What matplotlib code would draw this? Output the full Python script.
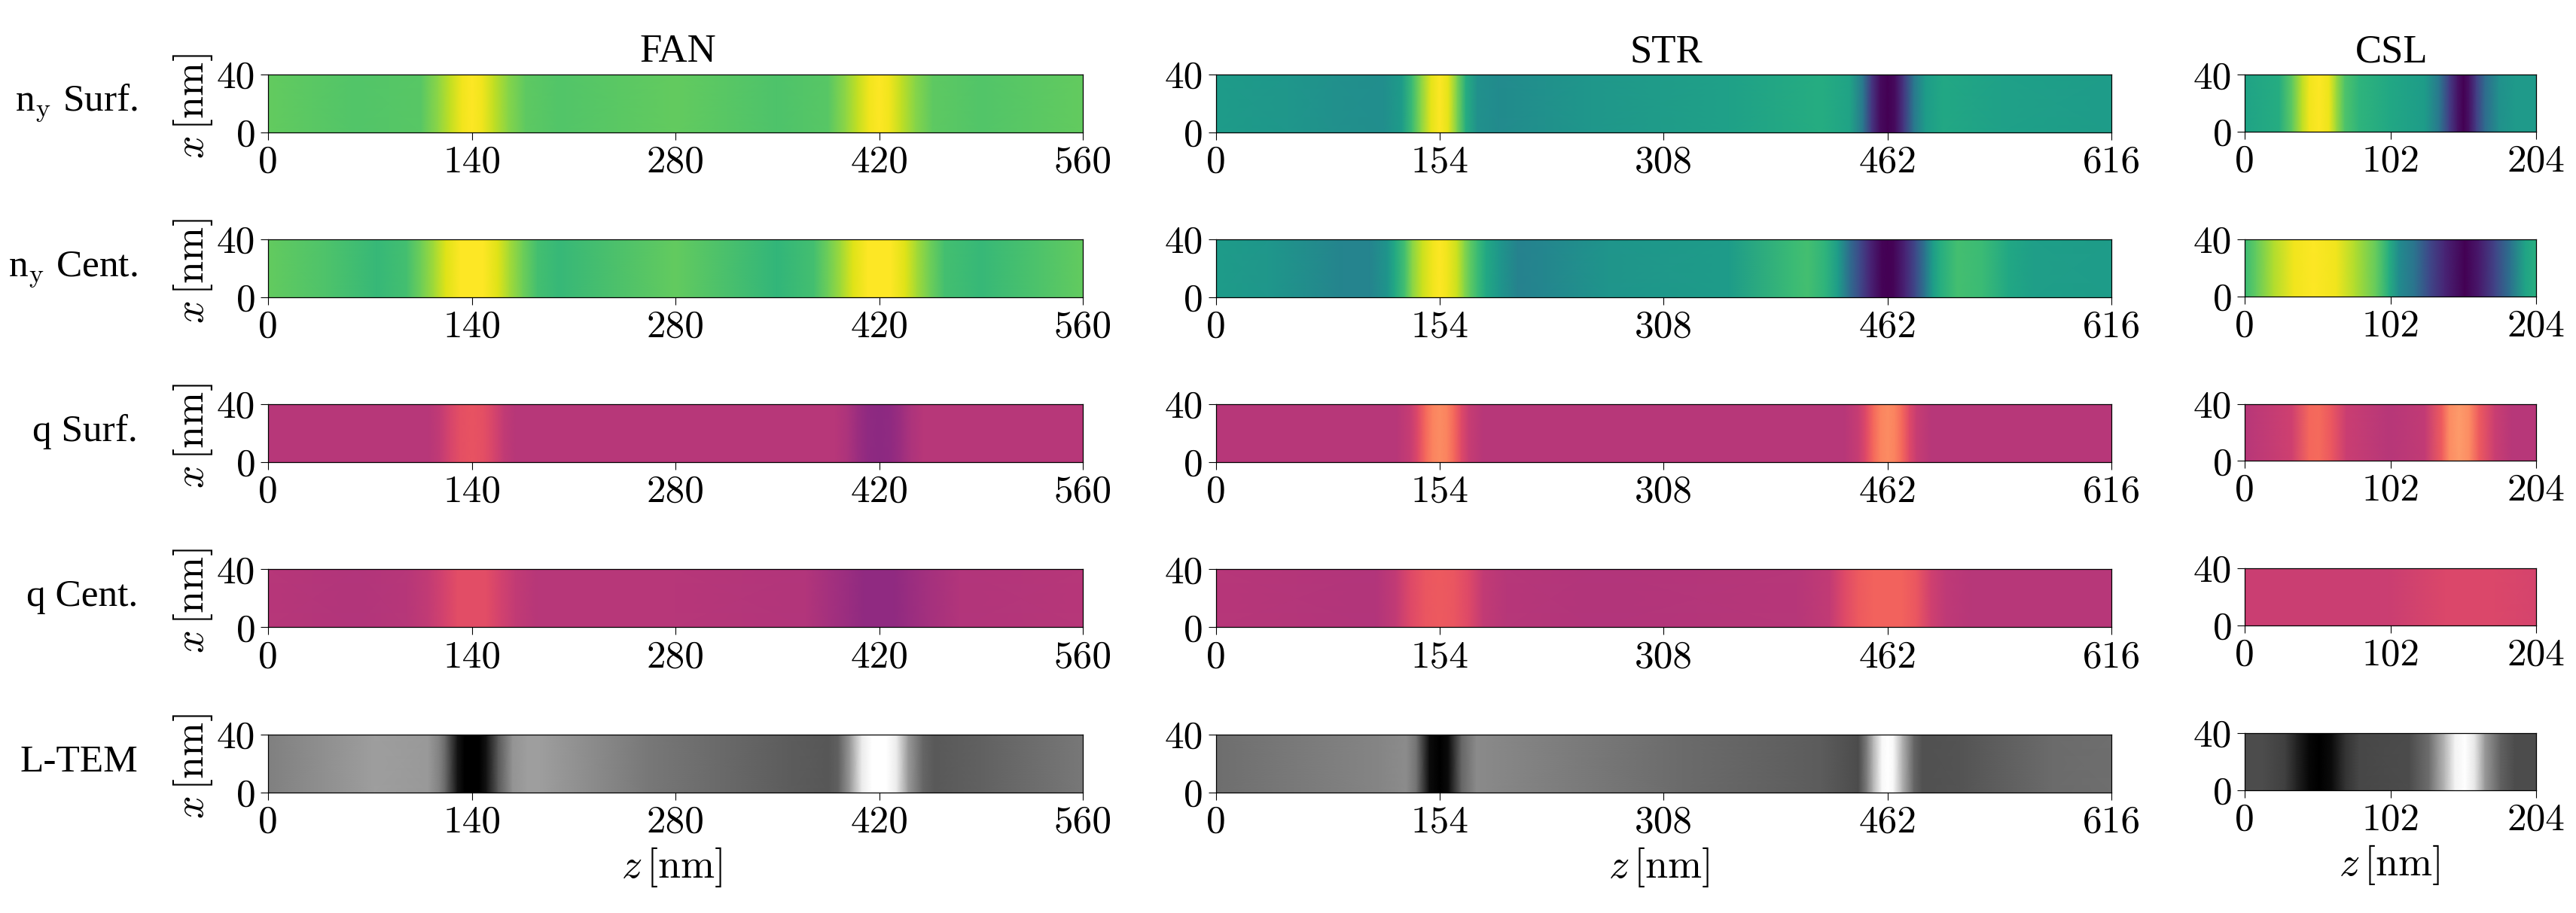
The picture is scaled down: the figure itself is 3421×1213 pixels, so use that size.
#!/usr/bin/env python3
"""Stripe maps of n_y, q and L-TEM contrast for the FAN, STR and CSL cells."""

import matplotlib

matplotlib.use("Agg")
import matplotlib.pyplot as plt
import numpy as np

plt.rcParams["font.family"] = ["Liberation Serif", "DejaVu Serif"]
plt.rcParams["mathtext.fontset"] = "cm"

WIDTH, HEIGHT = 3421, 1213
DPI = 100

ROW_LABELS = [r"n$_{\mathrm{y}}$ Surf.", r"n$_{\mathrm{y}}$ Cent.", "q Surf.", "q Cent.", "L-TEM"]
COLUMN_TITLES = ["FAN", "STR", "CSL"]
ROW_CMAPS = ["viridis", "viridis", "magma", "magma", "gray"]
FAN_TICKS = [0, 140, 280, 420, 560]
STR_TICKS = [0, 154, 308, 462, 616]
CSL_TICKS = [0, 102, 204]
X_TICKS = [0, 40]

# values, as positions along each colour map (0..1)
fan_ny_surf_z = [0, 60, 105, 117, 125, 133, 140, 147, 155, 165, 177, 200, 280, 350, 385, 397, 405, 413, 420, 427, 435, 445, 457, 490, 560]
fan_ny_surf = [.76, .73, .74, .83, .91, .98, 1, .98, .91, .82, .75, .73, .76, .72, .74, .83, .91, .98, 1, .98, .91, .82, .75, .73, .76]
fan_ny_cent_z = [0, 40, 75, 95, 105, 114, 122, 132, 148, 158, 166, 175, 185, 200, 280, 350, 375, 385, 394, 402, 412, 428, 438, 446, 455, 465, 490, 530, 560]
fan_ny_cent = [.76, .72, .67, .7, .78, .86, .95, 1, 1, .95, .86, .78, .7, .67, .76, .66, .7, .78, .86, .95, 1, 1, .95, .86, .78, .7, .67, .72, .76]
fan_q_surf_z = [0, 110, 118, 125, 132, 140, 148, 155, 162, 170, 390, 398, 405, 412, 420, 428, 435, 442, 450, 560]
fan_q_surf = [.5, .5, .53, .58, .62, .63, .62, .58, .53, .5, .5, .48, .44, .41, .4, .41, .44, .48, .5, .5]
fan_q_cent_z = [0, 60, 95, 110, 120, 130, 150, 160, 170, 185, 280, 370, 385, 400, 410, 430, 440, 455, 475, 560]
fan_q_cent = [.5, .49, .5, .53, .57, .61, .61, .57, .53, .5, .5, .49, .46, .43, .41, .41, .43, .46, .49, .5]
fan_tem_z = [0, 73, 110, 118, 122, 130, 135, 145, 150, 158, 168, 178, 187, 261, 360, 385, 392, 400, 408, 415, 425, 432, 440, 450, 458, 490, 560]
fan_tem = [.5, .62, .6, .5, .4, .08, 0, 0, .08, .35, .58, .62, .62, .47, .36, .34, .38, .6, .92, 1, 1, .92, .6, .4, .35, .38, .47]

str_ny_surf_z = [0, 50, 80, 115, 128, 135, 141, 148, 154, 160, 166, 172, 180, 195, 258, 353, 416, 436, 445, 451, 457, 462, 467, 473, 480, 488, 500, 540, 616]
str_ny_surf = [.55, .53, .5, .49, .55, .68, .82, .96, 1, .96, .8, .62, .5, .48, .53, .57, .62, .58, .4, .16, .03, 0, .03, .16, .4, .55, .6, .57, .55]
str_ny_cent_z = [0, 36, 87, 106, 118, 123, 130, 135, 142, 149, 154, 159, 166, 171, 175, 180, 186, 195, 208, 225, 270, 353, 397, 407, 419, 428, 436, 443, 450, 458, 462, 466, 474, 481, 488, 493, 498, 510, 527, 545, 562, 616]
str_ny_cent = [.55, .53, .45, .45, .52, .6, .7, .82, .92, .98, 1, .98, .92, .82, .75, .68, .6, .53, .44, .46, .52, .55, .68, .7, .65, .55, .35, .22, .1, .01, 0, .01, .1, .22, .4, .55, .62, .7, .68, .6, .56, .55]
str_q_surf_z = [0, 124, 134, 139, 144, 149, 154, 159, 164, 169, 174, 184, 432, 442, 447, 452, 457, 462, 467, 472, 477, 482, 492, 616]
str_q_surf = [.5, .5, .54, .6, .68, .74, .76, .74, .68, .6, .54, .5, .5, .54, .6, .68, .74, .76, .74, .68, .6, .54, .5, .5]
str_q_cent_z = [0, 110, 124, 134, 144, 154, 164, 174, 184, 200, 260, 400, 422, 432, 442, 452, 472, 482, 492, 502, 520, 616]
str_q_cent = [.5, .49, .53, .6, .64, .65, .64, .6, .53, .5, .49, .5, .53, .6, .65, .67, .67, .64, .56, .52, .5, .5]
str_tem_z = [0, 112, 131, 138, 147, 154, 160, 169, 179, 182, 321, 416, 442, 448, 452, 458, 462, 466, 472, 480, 486, 512, 575, 616]
str_tem = [.43, .52, .55, .45, .05, 0, .05, .4, .54, .54, .42, .36, .3, .5, .7, .97, 1, .97, .7, .4, .32, .33, .42, .43]

csl_ny_surf_z = [0, 24, 33, 40, 45, 52, 59, 64, 70, 80, 101, 126, 136, 143, 149, 153, 157, 162, 168, 178, 189, 204]
csl_ny_surf = [.58, .62, .75, .9, .98, 1, .97, .85, .72, .65, .6, .55, .4, .18, .05, 0, .05, .18, .35, .5, .54, .54]
csl_ny_cent_z = [0, 8, 20, 34, 48, 64, 77, 92, 101, 108, 119, 129, 140, 154, 164, 175, 186, 196, 204]
csl_ny_cent = [.68, .76, .88, .98, 1, .98, .88, .76, .62, .48, .38, .22, .1, 0, .07, .2, .38, .58, .63]
csl_q_surf_z = [0, 33, 45, 52, 61, 71, 101, 126, 138, 143, 150, 157, 164, 175, 187, 204]
csl_q_surf = [.5, .56, .68, .69, .64, .55, .5, .53, .66, .76, .79, .76, .65, .55, .5, .5]
csl_q_cent_z = [0, 100, 140, 175, 204]
csl_q_cent = [.55, .55, .59, .59, .575]
csl_tem_z = [0, 13, 28, 36, 45, 52, 61, 70, 80, 115, 129, 140, 147, 154, 161, 168, 179, 189, 204]
csl_tem = [.3, .3, .25, .14, .03, 0, .05, .2, .28, .3, .43, .72, .95, 1, .9, .6, .38, .3, .3]

PANELS = [
    [(fan_ny_surf_z, fan_ny_surf), (str_ny_surf_z, str_ny_surf), (csl_ny_surf_z, csl_ny_surf)],
    [(fan_ny_cent_z, fan_ny_cent), (str_ny_cent_z, str_ny_cent), (csl_ny_cent_z, csl_ny_cent)],
    [(fan_q_surf_z, fan_q_surf), (str_q_surf_z, str_q_surf), (csl_q_surf_z, csl_q_surf)],
    [(fan_q_cent_z, fan_q_cent), (str_q_cent_z, str_q_cent), (csl_q_cent_z, csl_q_cent)],
    [(fan_tem_z, fan_tem), (str_tem_z, str_tem), (csl_tem_z, csl_tem)],
]
COLUMN_TICKS = [FAN_TICKS, STR_TICKS, CSL_TICKS]

# layout in pixels of the final image: left, right, first top, row pitch, height
COLUMN_BOXES = [
    (356.3, 1438.0, 98.7, 219.25, 77.0),
    (1614.5, 2804.3, 98.7, 219.25, 77.0),
    (2981.3, 3368.3, 99.3, 218.6, 75.8),
]

FONT = 37


def add_panel(fig, box, row, z, values, cmap, ticks):
    left, right, top0, pitch, height = box
    top = top0 + pitch * row
    ax = fig.add_axes([left / WIDTH, 1 - (top + height) / HEIGHT, (right - left) / WIDTH, height / HEIGHT])
    zz, xx = np.meshgrid(z, X_TICKS)
    ax.pcolormesh(zz, xx, np.vstack([values, values]), shading="gouraud", cmap=cmap, vmin=0, vmax=1)
    ax.set_xlim(ticks[0], ticks[-1])
    ax.set_ylim(X_TICKS[0], X_TICKS[-1])
    ax.set_xticks(ticks)
    ax.set_yticks(X_TICKS)
    ax.tick_params(length=7.2, width=0.8, labelsize=FONT, pad=5, labelfontfamily="cmr10")
    for spine in ax.spines.values():
        spine.set_linewidth(0.9)
    return ax


def main():
    fig = plt.figure(figsize=(WIDTH / DPI, HEIGHT / DPI), dpi=DPI)
    for col, box in enumerate(COLUMN_BOXES):
        width_px = box[1] - box[0]
        height_px = box[4]
        for row, (z, values) in enumerate(PANELS_BY_COLUMN[col]):
            ax = add_panel(fig, box, row, z, values, ROW_CMAPS[row], COLUMN_TICKS[col])
            if row == 0:
                ax.set_title(COLUMN_TITLES[col], fontsize=FONT + 1, pad=12, x=0.503)
            if row == len(ROW_LABELS) - 1:
                ax.set_xlabel(r"$z\,[\mathrm{nm}]$", fontsize=FONT + 2)
                ax.xaxis.set_label_coords(0.495, -70 / height_px)
            if col == 0:
                ax.set_ylabel(r"$x\,[\mathrm{nm}]$", fontsize=FONT + 2)
                ax.yaxis.set_label_coords(-71 / width_px, 0.453)
                top = box[2] + box[3] * row
                fig.text(183 / WIDTH, 1 - (top + 49) / HEIGHT, ROW_LABELS[row],
                         fontsize=FONT, ha="right", va="baseline")
    fig.savefig("out.png", dpi=DPI)
    plt.close(fig)


PANELS_BY_COLUMN = [[row[col] for row in PANELS] for col in range(3)]

if __name__ == "__main__":
    main()
